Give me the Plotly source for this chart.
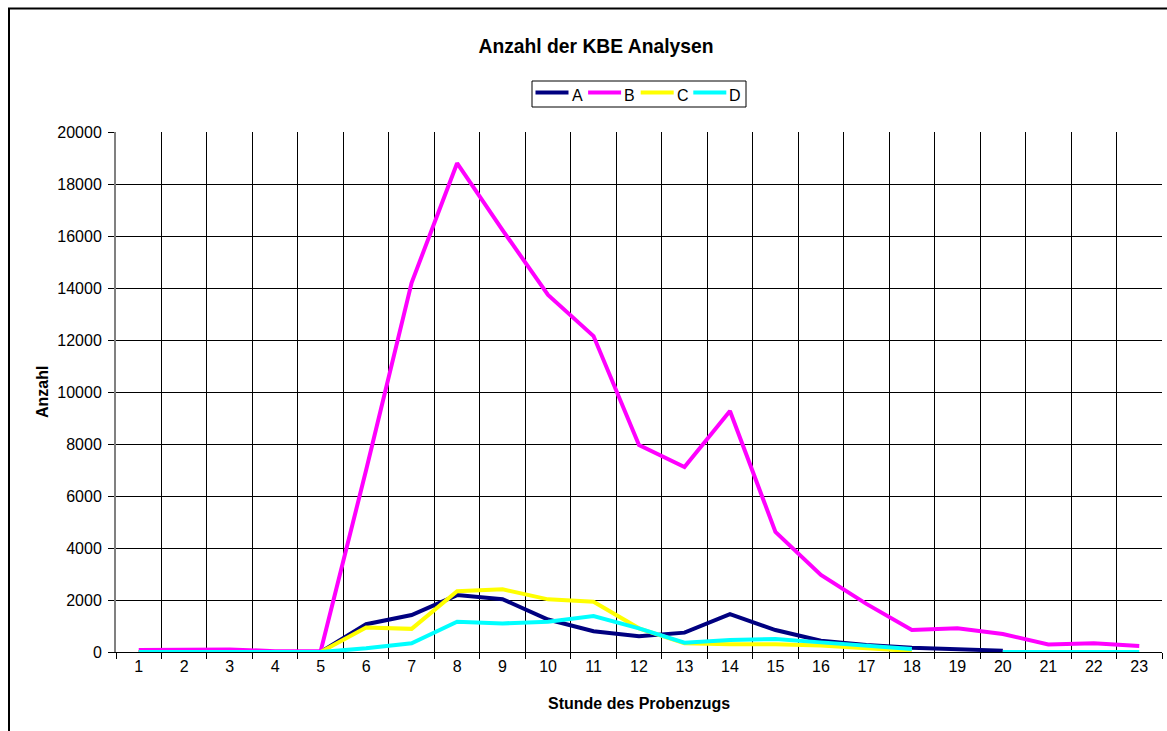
import plotly.graph_objects as go

# Stunde des Probenzugs (1..23)
hours = [str(h) for h in range(1, 24)]

# Anzahl der KBE-Analysen je Stunde
series_a = [0, 0, 0, 0, 0, 1070, 1420, 2190, 2030, 1250, 800, 610, 745, 1460, 845, 435, 270, 165, 90, 50,
            None, None, None]
series_b = [80, 80, 100, 30, 30, 7000, 14200, 18800, 16230, 13730, 12150, 7960, 7115, 9270, 4620, 2960,
            1850, 850, 910, 690, 290, 333, 230]
series_c = [0, 0, 0, 0, 0, 940, 890, 2340, 2410, 2025, 1935, 910, 333, 295, 295, 250, 150, 40,
            None, None, None, None, None]
series_d = [0, 0, 0, 0, 0, 140, 333, 1165, 1100, 1165, 1385, 910, 360, 460, 500, 370, 240, 115,
            None, 0, 0, 0, 0]

names = ["A", "B", "C", "D"]
colors = ["#000080", "#FF00FF", "#FFFF00", "#00FFFF"]
values = [series_a, series_b, series_c, series_d]

FONT = "Liberation Sans, Arial, sans-serif"

W, H = 1167, 731
L, R, T, B = 116, 1162, 132, 652
pw, ph = R - L, B - T


def px(x):
    return (x - L) / pw


def py(y):
    return (B - y) / ph


fig = go.Figure()
for name, col, vals in zip(names, colors, values):
    fig.add_trace(go.Scatter(
        x=hours, y=vals, name=name, mode="lines",
        line=dict(color=col, width=4),
        connectgaps=False, showlegend=False,
    ))

# Legende als Rahmen mit Liniensymbolen und Beschriftungen
leg_left, leg_right, leg_top, leg_bot = 532, 746, 81, 107
leg_line_y = 92.5
shapes = [
    dict(type="rect", xref="paper", yref="paper",
         x0=px(leg_left), x1=px(leg_right), y0=py(leg_bot), y1=py(leg_top),
         line=dict(color="black", width=1), fillcolor="white", layer="above"),
]
annotations = []
for i, (name, col) in enumerate(zip(names, colors)):
    x0 = 535.5 + i * 52.6
    shapes.append(dict(type="line", xref="paper", yref="paper",
                       x0=px(x0), x1=px(x0 + 33), y0=py(leg_line_y), y1=py(leg_line_y),
                       line=dict(color=col, width=4), layer="above"))
    annotations.append(dict(text=name, x=px(x0 + 34), y=py(95), xref="paper", yref="paper",
                            showarrow=False, xanchor="left", yanchor="middle",
                            font=dict(family=FONT, size=16, color="black")))

annotations += [
    dict(text="<b>Anzahl</b>", x=px(42), y=py(392), xref="paper", yref="paper",
         textangle=-90, showarrow=False, xanchor="center", yanchor="middle",
         font=dict(family=FONT, size=16, color="black")),
    dict(text="<b>Stunde des Probenzugs</b>", x=px(639), y=py(703), xref="paper", yref="paper",
         showarrow=False, xanchor="center", yanchor="middle",
         font=dict(family=FONT, size=16, color="black")),
]

# äußerer Diagrammrahmen
shapes.append(dict(type="rect", xref="paper", yref="paper",
                   x0=px(9), x1=px(1175), y0=py(8.5), y1=py(745),
                   line=dict(color="black", width=2), fillcolor="rgba(0,0,0,0)", layer="above"))

fig.update_layout(
    width=W, height=H,
    margin=dict(l=L, r=W - R, t=T, b=H - B, autoexpand=False),
    paper_bgcolor="white", plot_bgcolor="white",
    font=dict(family=FONT, color="black", size=16),
    showlegend=False,
    title=dict(text="<b>Anzahl der KBE Analysen</b>", x=px(596), xref="paper", xanchor="center",
               y=1 - 46 / H, yref="container", yanchor="middle",
               font=dict(family=FONT, size=19.3, color="black")),
    xaxis=dict(
        type="category", tickson="boundaries",
        showgrid=True, gridcolor="black", gridwidth=1,
        showline=True, linecolor="black", linewidth=1,
        ticks="outside", ticklen=6, tickcolor="black",
        tickfont=dict(family=FONT, size=16, color="black"),
        range=[-0.5, 22.5], fixedrange=True,
    ),
    yaxis=dict(
        range=[0, 20000], dtick=2000, tick0=0, tickformat="d",
        showgrid=True, gridcolor="black", gridwidth=1,
        zeroline=False,
        showline=True, linecolor="#808080", linewidth=2,
        ticks="outside", ticklen=6, tickcolor="black",
        ticklabelstandoff=3,
        tickfont=dict(family=FONT, size=16, color="black"),
        fixedrange=True,
    ),
    annotations=annotations,
    shapes=shapes,
)

fig.write_html("out.html")
